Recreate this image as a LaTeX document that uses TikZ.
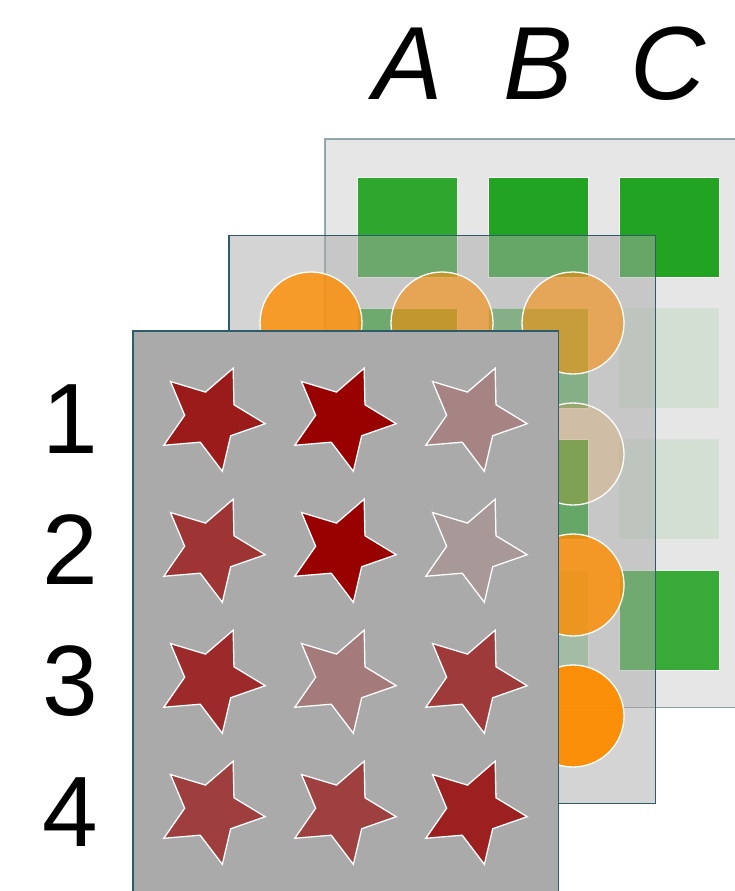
\documentclass[tikz,border=0pt]{standalone}
\usepackage{fontspec}
\setmainfont{Liberation Sans}
\definecolor{sqgreen}{RGB}{34,163,34}
\definecolor{circorange}{RGB}{255,140,0}
\definecolor{starred}{RGB}{153,0,0}
\definecolor{panelgray}{RGB}{170,170,170}
\definecolor{backgray}{RGB}{230,230,230}
\definecolor{panelline}{RGB}{47,92,106}
\tikzset{
  panelborder/.style={draw=panelline, line width=1.4pt},
  sqstyle/.style={fill=sqgreen, draw=white, line width=0.8pt},
  circstyle/.style={fill=circorange, draw=white, line width=1.3pt},
  starstyle/.style={fill=starred, draw=white, line width=1.3pt, line join=miter},
  lbl/.style={inner sep=0pt, font=\fontsize{100}{100}\selectfont},
  collbl/.style={inner sep=0pt, font=\fontsize{104}{104}\selectfont\itshape},
  pics/mystar/.style={code={
    \path[starstyle,#1] (66:54.5pt) -- (102:26.5pt) -- (138:54.5pt) -- (174:26.5pt)
      -- (210:54.5pt) -- (246:26.5pt) -- (282:54.5pt) -- (318:26.5pt)
      -- (354:54.5pt) -- (30:26.5pt) -- cycle;}}
}
\begin{document}
\begin{tikzpicture}[x=1pt,y=-1pt]
\useasboundingbox (0,0) rectangle (735,891);
\fill[white] (0,0) rectangle (735,891);
% back panel
\fill[backgray] (325,139) rectangle (750,707.7);
\draw[panelline, draw opacity=0.5, line width=1.2pt] (750,139) -- (325,139) -- (325,707.7) -- (750,707.7);
% green squares: row/col/opacity
\foreach \r/\c/\o in {0/0/0.93,0/1/1,0/2/1,
                      1/0/0.91,1/1/0.68,1/2/0.09,
                      2/0/0.5,2/1/1,2/2/0.09,
                      3/0/0.5,3/1/0.36,3/2/0.89}{
  \path[sqstyle, fill opacity=\o, draw opacity=\o] ({357+131*\c},{177+131*\r}) rectangle ++(100,100);
}
% middle panel
\fill[panelgray, opacity=0.5] (229,235.3) rectangle (655.5,803.3);
\draw[panelborder, line width=1.2pt] (229,235.3) rectangle (655.5,803.3);
% circles
\foreach \r/\c/\o in {0/0/0.8,0/1/0.57,0/2/0.55,
                      1/0/0.5,1/1/0.5,1/2/0.17,
                      2/0/0.5,2/1/0.5,2/2/0.8,
                      3/0/0.5,3/1/0.5,3/2/0.95}{
  \path[circstyle, fill opacity=\o] ({311+131*\c},{323+131*\r}) circle[radius=51];
}
% front panel
\fill[panelgray] (133,331) rectangle (558.5,900);
\draw[panelborder] (133,900) -- (133,331) -- (558.5,331) -- (558.5,900);
% stars
\foreach \r/\c/\o in {0/0/0.84,0/1/1,0/2/0.22,
                      1/0/0.69,1/1/1,1/2/0.1,
                      2/0/0.75,2/1/0.28,2/2/0.66,
                      3/0/0.63,3/1/0.62,3/2/0.81}{
  \pic at ({211+131*\c},{418+131*\r}) {mystar={fill opacity=\o}};
}
% labels
\node[collbl] (colA) at (408,63.5) {A};
\node[collbl] (colB) at (538,63.5) {B};
\node[collbl] (colC) at (668,63.5) {C};
\node[lbl] (row1) at (70,419) {1};
\node[lbl] (row2) at (70,550) {2};
\node[lbl] (row3) at (70,681) {3};
\node[lbl] (row4) at (70,812) {4};
\end{tikzpicture}
\end{document}
